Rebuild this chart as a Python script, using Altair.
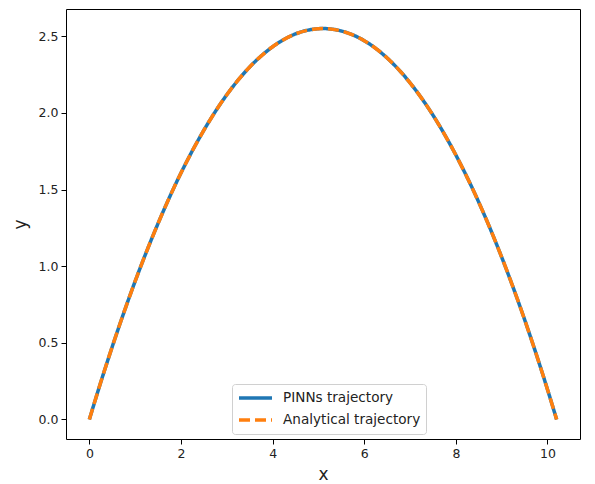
import altair as alt
import pandas as pd

# values
x_vals = [0.0, 0.25, 0.5, 1.0, 1.5, 2.0, 2.5, 3.0, 3.5, 4.0, 4.5, 5.0, 5.1,
          5.5, 6.0, 6.5, 7.0, 7.5, 8.0, 8.5, 9.0, 9.5, 10.0, 10.2]
y_pinns = [0.0, 0.244, 0.475, 0.902, 1.279, 1.608, 1.887, 2.118, 2.299, 2.431,
           2.515, 2.549, 2.55, 2.534, 2.471, 2.358, 2.196, 1.985, 1.725, 1.417,
           1.059, 0.652, 0.196, 0.0]
y_analytical = [0.0, 0.244, 0.475, 0.902, 1.279, 1.608, 1.887, 2.118, 2.299, 2.431,
                2.515, 2.549, 2.55, 2.534, 2.471, 2.358, 2.196, 1.985, 1.725, 1.417,
                1.059, 0.652, 0.196, 0.0]
series_names = ["PINNs trajectory", "Analytical trajectory"]
series_colors = ["#1f77b4", "#ff7f0e"]
x_ticks = [0, 2, 4, 6, 8, 10]
y_ticks = [0.0, 0.5, 1.0, 1.5, 2.0, 2.5]

rows = []
for i, xv in enumerate(x_vals):
    rows.append({"x": xv, "y": y_pinns[i], "series": series_names[0], "idx": i})
    rows.append({"x": xv, "y": y_analytical[i], "series": series_names[1], "idx": i})
df = pd.DataFrame(rows)

FONT = "DejaVu Sans"

color_scale = alt.Scale(domain=series_names, range=series_colors)
dash_scale = alt.Scale(domain=series_names, range=[[1, 0], [11, 5]])

legend = alt.Legend(
    title=None, orient="none", legendX=166, legendY=375,
    symbolType="stroke", symbolSize=1089, symbolStrokeWidth=3.5,
    labelFont=FONT, labelFontSize=13.6, labelColor="#222222",
    fillColor="white", strokeColor="#d0d0d0", cornerRadius=3,
    padding=5, labelOffset=9, rowPadding=4, clipHeight=18,
)

x_enc = alt.X("x:Q", scale=alt.Scale(domain=[-0.51, 10.71], nice=False, zero=False),
              axis=alt.Axis(values=x_ticks, format="d", title="x"))
y_enc = alt.Y("y:Q", scale=alt.Scale(domain=[-0.1275, 2.6775], nice=False, zero=False),
              axis=alt.Axis(values=y_ticks, format=".1f", title="y"))
color_enc = alt.Color("series:N", scale=color_scale, legend=legend)
dash_enc = alt.StrokeDash("series:N", scale=dash_scale, legend=legend)

layers = []
for name in series_names:
    layers.append(
        alt.Chart(df).transform_filter(alt.datum.series == name)
        .mark_line(strokeWidth=3.5, interpolate="monotone")
        .encode(x=x_enc, y=y_enc, color=color_enc, strokeDash=dash_enc,
                order=alt.Order("idx:Q"))
    )

chart = alt.layer(*layers).properties(
    width=514, height=430,
    autosize=alt.AutoSizeParams(type="none"),
    padding={"left": 66, "top": 9, "right": 15, "bottom": 45},
).configure_view(
    stroke="black", strokeWidth=1
).configure_axis(
    grid=False, domain=False, tickColor="black", tickSize=5, tickWidth=1,
    labelFont=FONT, labelFontSize=12.5, labelColor="#222222", labelPadding=3,
    titleFont=FONT, titleFontSize=17, titleFontWeight="normal", titleColor="#222222",
).configure_axisY(titlePadding=9).configure_axisX(titlePadding=7)

chart.save("out.html", embed_options={"renderer": "svg", "actions": False})
